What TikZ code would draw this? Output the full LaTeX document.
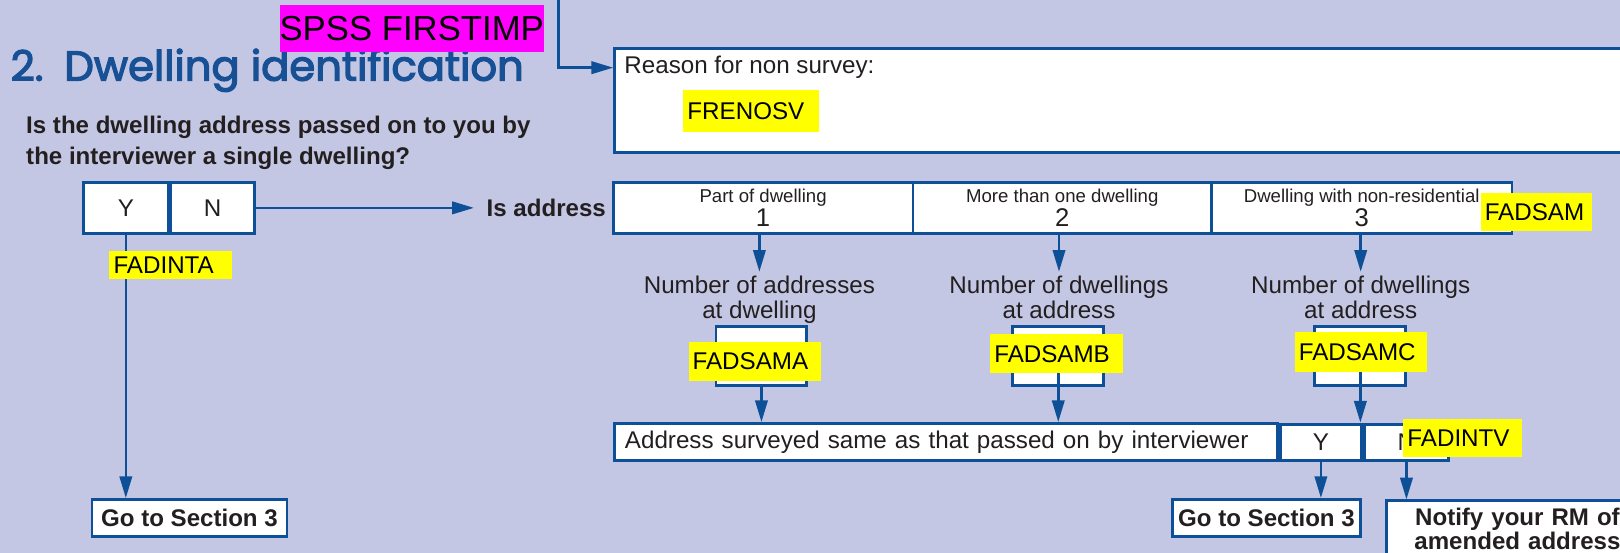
\documentclass[tikz,border=0pt]{standalone}
\usepackage{fontspec}
\setmainfont{Liberation Sans}
\newfontfamily\titlefont{Poppins}[FakeBold=3]
\usetikzlibrary{arrows.meta, positioning}

\definecolor{pagebg}{RGB}{195,199,227}
\definecolor{boxblue}{RGB}{14,80,152}
\definecolor{titleblue}{RGB}{24,80,150}
\definecolor{inkgray}{RGB}{35,31,32}
\definecolor{tagyellow}{RGB}{255,255,0}
\definecolor{tagmagenta}{RGB}{255,0,255}

\tikzset{
  plaintext/.style={font=\fontsize{11.7}{12}\selectfont, text=inkgray, inner sep=0pt},
  boldtext/.style={font=\fontsize{11.65}{12}\selectfont\bfseries, text=inkgray, inner sep=0pt},
  answerbox/.style={draw=boxblue, line width=1.4pt, fill=white, inner sep=0pt,
    font=\fontsize{11.7}{12}\selectfont, text=inkgray},
  gotobox/.style={answerbox, font=\fontsize{11.65}{12}\selectfont\bfseries},
  typebox/.style={answerbox, minimum height=24.7pt, align=center, font=\fontsize{9}{11.8}\selectfont},
  varname/.style={fill=tagyellow, anchor=west, align=left, inner xsep=2pt, inner ysep=0pt,
    font=\fontsize{11.7}{12}\selectfont, text=black},
  flow/.style={draw=boxblue, line width=1.2pt, -{Triangle[length=10.5pt, width=6pt]}},
  link/.style={draw=boxblue, line width=1.2pt}
}
\newcommand{\typenum}[1]{{\fontsize{12.4}{11.8}\selectfont #1}}

\begin{document}
\begin{tikzpicture}[x=0.5pt, y=-0.5pt]

% Page
\useasboundingbox ( 0, 0 ) rectangle ( 1568, 535.2 );
\clip ( 0, 0 ) rectangle ( 1568, 535.2 );
\fill [pagebg] ( 0, 0 ) rectangle ( 1568, 535.2 );

% Heading
\node [anchor=base west, inner sep=0pt, text=titleblue, font=\titlefont\fontsize{20.2}{22}\selectfont] (heading) at ( 10, 78 ) {2.\hspace{0.5em}Dwelling identification};
\node [fill=tagmagenta, text=black, minimum width=124.5pt, minimum height=22.9pt, inner sep=0pt, font=\fontsize{16.8}{18}\selectfont] (spsstag) at ( 398.5, 27.7 ) {SPSS FIRSTIMP};

% Question
\node [boldtext, anchor=base west] (question) at ( 25, 129 ) {Is the dwelling address passed on to you by};
\node [boldtext, anchor=base west] (questiontwo) at ( 25, 159.7 ) {the interviewer a single dwelling?};

% Reason for non survey
\coordinate (topentry) at ( 540.7, 0 );
\coordinate (topbend) at ( 540.7, 65.5 );
\node [answerbox, anchor=north west, minimum width=553pt, minimum height=50.35pt] (reasonbox) at ( 593.5, 45.2 ) {};
\draw [flow] (topentry) -- (topbend) -- (topbend -| reasonbox.west);
\node [plaintext, anchor=base west] (reasontext) at ( 604, 71.6 ) {Reason for non survey:};
\node [varname, text width=61.5pt, minimum height=20.25pt] (frenosv) at ( 661, 107.25 ) {FRENOSV};

% Single dwelling Y / N
\node [answerbox, minimum width=40.8pt, minimum height=24.7pt] (singley) at ( 121.8, 201.2 ) {Y};
\node [answerbox, minimum width=40.4pt, minimum height=24.7pt, right=0pt of singley] (singlen) {N};
\node [gotobox, minimum width=94.4pt, minimum height=18pt] (gotoleft) at ( 183.4, 501.5 ) {Go to Section 3};
\draw [flow] (singley.south) -- (singley.south |- gotoleft.north);
\node [varname, text width=55.25pt, minimum height=13.5pt] (fadinta) at ( 105.5, 256.5 ) {FADINTA};

% Is address
\node [boldtext, inner xsep=6pt] (isaddress) at ( 528.75, 201.5 ) {Is address};
\draw [flow] (singlen.east) -- (singlen.east -| isaddress.west);

% Address type
\node [typebox, minimum width=145.1pt] (typeone) at ( 738.6, 201.2 ) {Part of dwelling\\\typenum{1}};
\node [typebox, minimum width=144.45pt] (typetwo) at ( 1028.15, 201.2 ) {More than one dwelling\\\typenum{2}};
\node [typebox, minimum width=145.4pt] (typethree) at ( 1318, 201.2 ) {Dwelling with non-residential\\\typenum{3}};
\node [varname, text width=49.65pt, minimum height=18.5pt] (fadsam) at ( 1432.7, 205.5 ) {FADSAM};

% Counts
\node [plaintext, align=center, anchor=north, inner ysep=2pt] (countqone) at ( 735, 263 ) {Number of addresses\\at dwelling};
\node [plaintext, align=center, anchor=north, inner ysep=2pt] (countqtwo) at ( 1025, 263 ) {Number of dwellings\\at address};
\node [plaintext, align=center, anchor=north, inner ysep=2pt] (countqthree) at ( 1317, 263 ) {Number of dwellings\\at address};
\draw [flow] (countqone.north |- typeone.south) -- (countqone.north);
\draw [flow] (countqtwo.north |- typetwo.south) -- (countqtwo.north);
\draw [flow] (countqthree.north |- typethree.south) -- (countqthree.north);

\node [answerbox, minimum width=44pt, minimum height=28.55pt] (countone) at ( 737, 344.15 ) {};
\node [answerbox, minimum width=44pt, minimum height=28.55pt] (counttwo) at ( 1024.3, 344.15 ) {};
\node [answerbox, minimum width=44pt, minimum height=28.55pt] (countthree) at ( 1316.7, 344.15 ) {};
\draw [link] (counttwo.center) -- (counttwo.south);
\draw [link] (countthree.center) -- (countthree.south);
\node [varname, text width=60pt, minimum height=18.9pt] (fadsama) at ( 666, 349.6 ) {FADSAMA};
\node [varname, text width=60.25pt, minimum height=18.9pt] (fadsamb) at ( 958, 342.5 ) {FADSAMB};
\node [varname, text width=60.25pt, minimum height=19.05pt] (fadsamc) at ( 1252.7, 340.75 ) {FADSAMC};

% Same address?
\node [answerbox, anchor=west, minimum height=18.1pt, text width=310.75pt, inner xsep=5pt, align=left] (sameaddress) at ( 593.5, 428 ) {Address surveyed same as that passed on by interviewer};
\node [answerbox, minimum width=39.5pt, minimum height=17.75pt] (samey) at ( 1278.5, 428.2 ) {Y};
\node [answerbox, minimum width=40.5pt, minimum height=17.75pt, right=0pt of samey] (samen) {N};
\draw [flow] (countone.south) -- (countone.south |- sameaddress.north);
\draw [flow] (counttwo.south) -- (counttwo.south |- sameaddress.north);
\draw [flow] (countthree.south) -- (countthree.south |- samey.north);
\node [varname, text width=53.55pt, minimum height=18pt] (fadintv) at ( 1357.9, 424 ) {FADINTV};

% Outcomes
\node [gotobox, minimum width=90.8pt, minimum height=17.75pt] (gotoright) at ( 1225.8, 501.15 ) {Go to Section 3};
\node [gotobox, anchor=north west, text width=120.65pt, inner xsep=3pt, inner ysep=3.25pt, align=center] (notify) at ( 1340.7, 483.4 ) {Notify your RM of\\amended address};
\draw [flow] (samey.south) -- (samey.south |- gotoright.north);
\draw [flow] (samen.south) -- (samen.south |- notify.north);

\end{tikzpicture}
\end{document}
